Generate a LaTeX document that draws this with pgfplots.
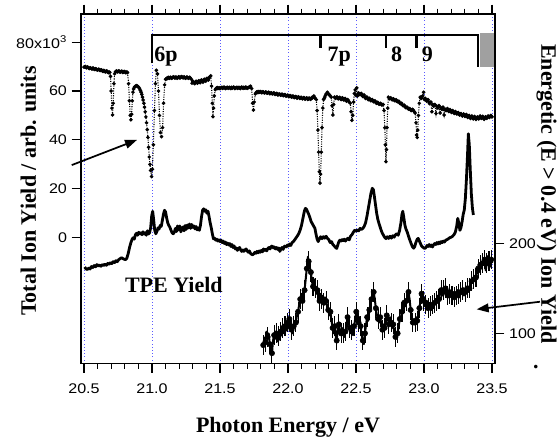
\documentclass[border=0pt]{standalone}
\usepackage{pgfplots}
\pgfplotsset{compat=1.18}
\usepackage{fontspec}
\setmainfont{Liberation Serif}
\newfontfamily\ticksans[FakeStretch=1.15]{Liberation Sans}
\usetikzlibrary{arrows.meta}
\definecolor{gridblue}{RGB}{90,90,255}
\definecolor{boxgray}{RGB}{160,160,160}
\newcommand\labfont{\bfseries\fontsize{16.5}{19}\selectfont}
\newcommand\tickfont{\ticksans\fontsize{10.5}{12}\selectfont}

\pgfplotstableread{
E Y
21.818 87
21.826 95
21.834 90
21.842 102
21.850 96
21.858 100
21.866 88
21.874 80
21.882 78
21.890 92
21.898 98
21.906 94
21.914 100
21.922 91
21.930 97
21.938 93
21.946 102
21.954 98
21.962 106
21.970 100
21.978 108
21.986 103
21.994 112
22.002 106
22.010 116
22.018 110
22.026 104
22.034 100
22.042 108
22.050 114
22.058 112
22.066 120
22.074 124
22.082 132
22.090 138
22.098 144
22.106 136
22.114 142
22.122 148
22.130 160
22.138 172
22.146 185
22.152 180
22.160 174
22.168 168
22.176 158
22.184 152
22.192 160
22.200 150
22.208 144
22.216 148
22.224 140
22.232 136
22.240 144
22.248 138
22.256 142
22.264 134
22.272 140
22.280 136
22.288 130
22.296 126
22.304 120
22.312 124
22.320 114
22.328 106
22.336 100
22.344 108
22.352 96
22.358 92
22.366 104
22.374 110
22.382 104
22.390 100
22.398 106
22.406 100
22.414 96
22.422 102
22.430 110
22.438 118
22.446 112
22.454 106
22.462 100
22.470 104
22.478 98
22.486 108
22.494 116
22.502 124
22.510 120
22.518 112
22.526 118
22.534 108
22.542 98
22.550 92
22.558 88
22.566 100
22.574 110
22.582 118
22.590 114
22.598 126
22.606 132
22.614 138
22.622 142
22.630 146
22.638 138
22.646 128
22.654 120
22.662 116
22.670 112
22.678 118
22.686 110
22.694 104
22.702 110
22.710 106
22.718 114
22.726 120
22.734 116
22.742 110
22.750 118
22.758 112
22.766 106
22.774 110
22.782 100
22.790 96
22.798 94
22.806 100
22.814 108
22.822 116
22.830 118
22.838 124
22.846 128
22.854 134
22.862 130
22.870 136
22.878 140
22.886 146
22.894 138
22.902 126
22.910 116
22.918 112
22.926 116
22.934 112
22.942 118
22.950 114
22.958 120
22.966 128
22.974 136
22.982 144
22.990 140
22.998 136
23.006 140
23.014 132
23.022 136
23.030 128
23.038 134
23.046 130
23.054 126
23.062 132
23.070 128
23.078 134
23.086 138
23.094 136
23.102 142
23.110 138
23.118 144
23.126 148
23.134 142
23.142 148
23.150 144
23.158 150
23.166 146
23.174 142
23.182 148
23.190 144
23.198 148
23.206 142
23.214 146
23.222 140
23.230 146
23.238 142
23.246 148
23.254 144
23.262 140
23.270 146
23.278 144
23.286 148
23.294 142
23.302 146
23.310 144
23.318 150
23.326 146
23.334 150
23.342 154
23.350 158
23.358 156
23.366 160
23.374 164
23.382 162
23.390 168
23.398 172
23.406 168
23.414 176
23.422 172
23.430 178
23.438 176
23.446 182
23.454 170
23.462 178
23.470 186
23.478 180
23.486 174
23.494 182
23.502 178
}\energetic

\begin{document}
\begin{tikzpicture}
\useasboundingbox (0,0) rectangle (420pt,330pt);
% ---------- left axis: total ion yield and TPE yield ----------
\begin{axis}[
  at={(60.75pt,57.5pt)}, anchor=south west,
  scale only axis, width=310.5pt, height=262pt,
  xmin=20.478, xmax=23.522, ymin=-51.4, ymax=91.5,
  clip=false,
  axis line style={line width=1pt},
  tick align=outside, xtick pos=both, ytick pos=left, xticklabel pos=lower,
  major tick length=7pt, minor tick length=4pt,
  tick style={black, line width=0.9pt},
  xtick={20.5,21,21.5,22,22.5,23,23.5},
  xticklabels={20.5,21.0,21.5,22.0,22.5,23.0,23.5},
  minor x tick num=4,
  ytick={0,20,40,60,80},
  yticklabels={0,20,40,60,80x10\textsuperscript{3}},
  tick label style={font=\tickfont},
  xticklabel style={yshift=-5pt},
  xmajorgrids, major grid style={gridblue, dotted, line width=0.6pt},
  xlabel={Photon Energy / eV},
  xlabel style={font=\labfont, at={(axis description cs:0.5,-0.1967)}, anchor=base},
  ylabel={Total Ion Yield / arb. units},
  ylabel style={font=\labfont, at={(axis description cs:-0.109,0.493)}, anchor=base},
]
% total ion yield (dotted trace with point markers)
\addplot[black, densely dotted, line width=0.8pt, mark=*, mark size=0.9pt, mark options={solid}] coordinates {
(20.500,69.8) (20.505,69.9) (20.510,70.0) (20.515,69.6) (20.520,69.5) (20.525,69.8) (20.530,69.7) (20.535,69.3) (20.540,69.2) (20.545,69.5) (20.550,69.4)
(20.555,69.1) (20.560,69.0) (20.565,69.4) (20.570,69.3) (20.575,68.9) (20.580,68.8) (20.585,69.1) (20.590,69.0) (20.595,68.7) (20.600,68.6) (20.605,68.9) (20.610,68.9)
(20.615,68.5) (20.620,68.4) (20.625,68.7) (20.630,68.6) (20.635,68.2) (20.640,68.0) (20.645,68.4) (20.650,68.3) (20.655,67.9) (20.660,67.8) (20.665,68.2) (20.670,68.1)
(20.675,67.7) (20.680,67.5) (20.685,67.8) (20.690,67.6) (20.695,66.0) (20.700,60.0) (20.705,53.0) (20.710,50.2)
(20.715,55.0) (20.720,63.0) (20.725,67.0) (20.730,67.8) (20.735,68.0) (20.740,68.2) (20.745,67.8) (20.750,67.9)
(20.755,68.2) (20.760,68.1) (20.765,67.7) (20.770,67.8) (20.775,68.1) (20.780,68.0) (20.785,67.6) (20.790,67.7) (20.795,68.0) (20.800,67.9) (20.805,67.5) (20.810,67.6)
(20.815,67.8) (20.820,67.5) (20.828,63.0) (20.834,56.0) (20.840,50.0) (20.845,48.2) (20.850,50.5)
(20.855,56.0) (20.860,59.5) (20.865,60.8) (20.870,61.5) (20.875,61.8) (20.880,62.0) (20.885,62.2) (20.890,62.1) (20.895,61.9) (20.900,61.6)
(20.905,61.3) (20.910,60.8) (20.915,60.2) (20.920,59.5) (20.925,58.6) (20.930,57.5) (20.935,56.3) (20.940,55.0) (20.945,53.4) (20.950,51.5) (20.955,49.4) (20.960,47.0)
(20.965,44.2) (20.970,41.0) (20.975,37.0) (20.980,33.0) (20.985,30.0) (20.990,27.5) (20.997,25.0) (21.003,28.0) (21.010,38.0)
(21.018,52.0) (21.025,63.0) (21.032,68.5) (21.040,67.0) (21.048,60.0) (21.055,50.0)
(21.062,43.0) (21.070,41.3) (21.078,45.0) (21.085,55.0) (21.093,62.5) (21.100,64.8)
(21.105,65.0) (21.110,65.3) (21.115,65.1) (21.120,65.6) (21.125,65.4) (21.130,65.2) (21.135,65.6) (21.140,65.5) (21.145,65.2) (21.150,65.4) (21.155,65.7) (21.160,65.8)
(21.165,65.4) (21.170,65.3) (21.175,65.7) (21.180,65.6) (21.185,65.2) (21.190,65.4) (21.195,65.8) (21.200,65.7) (21.205,65.3) (21.210,65.5) (21.215,65.9) (21.220,65.8)
(21.225,65.5) (21.230,65.4) (21.235,65.8) (21.240,65.6) (21.245,65.2) (21.250,65.3) (21.255,65.7) (21.260,65.6) (21.265,65.3) (21.270,65.2) (21.275,65.6) (21.280,65.5)
(21.290,64.8) (21.295,63.2) (21.300,63.9) (21.305,63.8) (21.310,63.2) (21.315,63.0) (21.320,63.7) (21.325,64.0) (21.330,63.5) (21.335,63.2)
(21.340,64.0) (21.345,64.2) (21.350,63.6) (21.355,63.4) (21.360,64.3) (21.365,64.5) (21.370,63.9) (21.375,63.6) (21.380,64.4) (21.385,64.8) (21.390,64.3) (21.395,64.0)
(21.400,64.9) (21.405,65.2) (21.410,64.8) (21.415,64.5) (21.420,65.4) (21.425,65.8) (21.432,66.2) (21.438,62.0) (21.443,55.0)
(21.448,49.5) (21.453,53.0) (21.458,58.0) (21.465,60.5) (21.470,61.0) (21.475,61.2) (21.480,61.4) (21.485,61.0)
(21.490,61.2) (21.495,61.3) (21.500,61.0) (21.505,61.2) (21.510,61.4) (21.515,61.5) (21.520,61.1) (21.525,61.3) (21.530,61.6) (21.535,61.4) (21.540,61.0) (21.545,61.2)
(21.550,61.4) (21.555,61.5) (21.560,61.1) (21.565,61.3) (21.570,61.5) (21.575,61.2) (21.580,61.0) (21.585,61.5) (21.590,61.2) (21.595,61.3) (21.600,61.6) (21.605,61.4)
(21.610,61.0) (21.615,61.2) (21.620,61.4) (21.625,61.5) (21.630,61.1) (21.635,61.3) (21.640,61.5) (21.645,61.2) (21.650,61.0) (21.655,61.4) (21.660,61.6) (21.665,61.3)
(21.670,61.1) (21.675,61.5) (21.680,61.3) (21.685,61.2) (21.690,61.6) (21.695,61.4) (21.700,61.1) (21.705,61.3) (21.710,61.4) (21.715,61.6) (21.720,61.8) (21.725,62.0)
(21.733,61.0) (21.740,55.0) (21.746,52.2) (21.752,55.5) (21.760,58.8) (21.765,59.3) (21.770,59.6)
(21.775,59.4) (21.780,59.8) (21.785,59.4) (21.790,59.5) (21.795,59.8) (21.800,59.7) (21.805,59.3) (21.810,59.4) (21.815,59.7) (21.820,59.6) (21.825,59.2) (21.830,59.3)
(21.835,59.6) (21.840,59.5) (21.845,59.1) (21.850,59.2) (21.855,59.5) (21.860,59.4) (21.865,58.9) (21.870,59.0) (21.875,59.3) (21.880,59.2) (21.885,58.8) (21.890,58.9)
(21.895,59.2) (21.900,59.1) (21.905,58.6) (21.910,58.7) (21.915,59.0) (21.920,58.9) (21.925,58.4) (21.930,58.5) (21.935,58.8) (21.940,58.7) (21.945,58.3) (21.950,58.4)
(21.955,58.7) (21.960,58.6) (21.965,58.1) (21.970,58.2) (21.975,58.5) (21.980,58.4) (21.985,57.9) (21.990,58.0) (21.995,58.3) (22.000,58.2) (22.005,57.7) (22.010,57.8)
(22.015,58.1) (22.020,58.0) (22.025,57.5) (22.030,57.6) (22.035,57.9) (22.040,57.8) (22.045,57.3) (22.050,57.4) (22.055,57.7) (22.060,57.6) (22.065,57.1) (22.070,57.2)
(22.075,57.6) (22.080,57.5) (22.085,57.0) (22.090,57.1) (22.095,57.4) (22.100,57.3) (22.105,56.8) (22.110,56.9) (22.115,57.3) (22.120,57.2) (22.125,56.7) (22.130,56.8)
(22.135,57.2) (22.140,57.1) (22.145,56.6) (22.150,56.7) (22.155,57.1) (22.160,57.0) (22.165,56.6) (22.170,56.8) (22.175,57.3) (22.180,57.2) (22.185,57.6) (22.190,58.0)
(22.195,57.4) (22.200,57.0) (22.208,56.5) (22.214,52.0) (22.220,44.0) (22.225,35.0) (22.230,27.0)
(22.235,22.3) (22.240,26.0) (22.245,35.0) (22.250,45.0) (22.256,53.0) (22.262,56.5)
(22.266,57.0) (22.270,57.5) (22.275,58.2) (22.280,58.8) (22.285,59.0) (22.290,59.5) (22.295,59.0) (22.300,58.6) (22.305,58.4) (22.310,58.0) (22.318,57.5)
(22.324,54.0) (22.330,50.2) (22.336,54.5) (22.342,57.5) (22.346,57.2) (22.350,57.0) (22.355,57.4) (22.360,57.6)
(22.365,57.0) (22.370,56.8) (22.375,57.2) (22.380,57.4) (22.385,56.8) (22.390,56.5) (22.395,57.0) (22.400,57.2) (22.405,56.6) (22.410,56.3) (22.415,56.7) (22.420,56.9)
(22.425,56.2) (22.430,55.8) (22.435,56.3) (22.440,56.5) (22.445,55.9) (22.450,55.4) (22.458,55.0) (22.464,51.5) (22.470,48.0)
(22.476,50.0) (22.482,55.5) (22.488,59.0) (22.494,60.5) (22.500,58.2) (22.506,61.3)
(22.512,58.0) (22.516,58.8) (22.520,59.2) (22.525,58.8) (22.530,58.5) (22.535,58.8) (22.540,59.0) (22.545,58.2) (22.550,57.8) (22.555,58.1) (22.560,58.4)
(22.565,57.5) (22.570,57.0) (22.575,57.3) (22.580,57.6) (22.585,57.0) (22.590,56.5) (22.595,56.8) (22.600,57.0) (22.605,56.4) (22.610,56.0) (22.615,56.3) (22.620,56.5)
(22.625,56.0) (22.630,55.6) (22.635,55.8) (22.640,56.0) (22.645,55.4) (22.650,55.0) (22.655,55.2) (22.660,55.4) (22.665,54.9) (22.670,54.6) (22.675,54.8) (22.680,55.0)
(22.685,54.6) (22.690,54.3) (22.695,54.4) (22.700,54.5) (22.706,52.0) (22.712,45.0) (22.716,38.0) (22.720,31.1)
(22.724,36.0) (22.728,45.0) (22.733,53.0) (22.738,57.5) (22.745,56.8) (22.750,57.0) (22.755,57.2)
(22.760,56.8) (22.765,56.4) (22.770,56.6) (22.775,56.8) (22.780,56.3) (22.785,56.0) (22.790,56.2) (22.795,56.4) (22.800,55.8) (22.805,55.6) (22.810,55.7) (22.815,55.8)
(22.820,55.2) (22.825,54.8) (22.830,54.9) (22.835,55.0) (22.840,54.4) (22.845,54.0) (22.850,54.1) (22.855,54.2) (22.860,53.6) (22.865,53.2) (22.870,53.3) (22.875,53.4)
(22.880,53.0) (22.885,52.6) (22.890,52.7) (22.895,52.8) (22.900,52.4) (22.905,52.0) (22.910,52.2) (22.915,52.5) (22.920,52.2) (22.925,51.8) (22.930,51.4) (22.935,51.0)
(22.941,47.0) (22.946,42.0) (22.950,41.0) (22.954,44.0) (22.959,50.0) (22.965,55.0)
(22.972,57.5) (22.976,57.2) (22.980,57.0) (22.985,57.6) (22.990,58.0) (22.997,59.5) (23.003,56.5) (23.006,56.8) (23.010,57.0)
(23.015,56.4) (23.020,55.8) (23.025,56.2) (23.030,56.5) (23.035,55.6) (23.040,54.8) (23.045,55.2) (23.050,55.5) (23.058,51.5) (23.064,54.5)
(23.068,54.2) (23.072,53.8) (23.076,54.2) (23.080,54.5) (23.088,50.8) (23.094,53.8) (23.098,53.4) (23.102,53.0) (23.106,53.6) (23.110,54.0)
(23.118,51.0) (23.124,53.2) (23.128,52.8) (23.132,52.5) (23.136,53.0) (23.140,53.4) (23.148,50.2) (23.154,52.6)
(23.158,52.2) (23.162,52.0) (23.167,52.5) (23.172,52.8) (23.177,52.0) (23.182,51.6) (23.187,52.0) (23.192,52.4) (23.197,51.6) (23.202,51.2) (23.207,51.7) (23.212,52.0)
(23.217,51.2) (23.222,50.8) (23.227,51.3) (23.232,51.6) (23.237,50.9) (23.242,50.6) (23.247,51.0) (23.252,51.2) (23.257,50.5) (23.262,50.2) (23.267,50.6) (23.272,50.8)
(23.277,50.1) (23.282,49.8) (23.287,50.3) (23.292,50.6) (23.297,49.9) (23.302,49.6) (23.307,50.1) (23.312,50.4) (23.317,49.6) (23.322,49.2) (23.327,49.7) (23.332,50.0)
(23.337,49.2) (23.342,48.8) (23.347,49.4) (23.352,49.8) (23.357,49.0) (23.362,48.6) (23.367,49.2) (23.372,49.6) (23.377,48.8) (23.382,48.4) (23.387,49.0) (23.392,49.4)
(23.397,48.9) (23.402,48.6) (23.407,49.3) (23.412,49.8) (23.417,49.1) (23.422,48.8) (23.427,49.3) (23.432,49.6) (23.437,48.8) (23.442,48.4) (23.447,49.0) (23.452,49.4)
(23.457,49.0) (23.462,48.8) (23.467,49.4) (23.472,49.8) (23.477,49.4) (23.482,49.2) (23.487,49.7) (23.492,50.0) (23.496,49.6) (23.500,49.4)
};
% threshold photoelectron (TPE) yield
\addplot[black, line width=2.1pt, line join=round] coordinates {
(20.505,-12.0) (20.515,-12.8) (20.525,-13.0) (20.535,-12.4) (20.545,-12.8) (20.555,-11.8)
(20.565,-12.2) (20.575,-11.4) (20.585,-11.9) (20.595,-11.0) (20.605,-11.6) (20.615,-11.2)
(20.625,-11.7) (20.635,-11.0) (20.645,-11.4) (20.655,-10.8) (20.665,-11.3) (20.675,-10.5)
(20.685,-10.9) (20.695,-10.2) (20.705,-10.6) (20.715,-9.8) (20.725,-10.2) (20.735,-9.4)
(20.745,-9.8) (20.755,-9.0) (20.765,-8.6) (20.775,-8.2) (20.785,-8.5) (20.795,-8.8)
(20.805,-9.0) (20.815,-8.4) (20.825,-6.5) (20.835,-4.0) (20.845,-2.0) (20.855,-0.5)
(20.862,0.0) (20.870,-0.6) (20.878,1.2) (20.886,1.8) (20.894,1.0) (20.902,2.2)
(20.910,1.6) (20.918,2.0) (20.926,1.2) (20.934,2.4) (20.942,1.5) (20.950,2.0)
(20.958,1.0) (20.966,2.8) (20.974,1.5) (20.982,2.0) (20.990,4.0) (20.998,9.0)
(21.005,10.8) (21.012,7.5) (21.020,3.0) (21.028,1.6) (21.036,2.5) (21.044,4.0)
(21.052,3.5) (21.060,5.0) (21.068,4.6) (21.076,7.0) (21.084,9.5) (21.092,11.2)
(21.100,10.5) (21.108,8.0) (21.116,6.0) (21.124,5.0) (21.132,4.2) (21.140,3.0)
(21.148,2.0) (21.156,1.6) (21.164,2.2) (21.172,3.8) (21.180,2.5) (21.188,4.8)
(21.196,3.2) (21.204,4.8) (21.212,2.4) (21.220,3.6) (21.228,4.4) (21.236,2.8)
(21.244,5.0) (21.252,3.4) (21.260,5.2) (21.268,4.0) (21.276,5.6) (21.284,3.8)
(21.292,5.4) (21.300,4.2) (21.308,4.8) (21.316,3.6) (21.324,4.6) (21.332,3.2)
(21.340,4.0) (21.348,3.0) (21.356,5.0) (21.364,8.5) (21.372,11.2) (21.380,11.8)
(21.388,10.8) (21.396,11.4) (21.404,10.0) (21.412,10.8) (21.420,8.5) (21.428,6.0)
(21.436,4.0) (21.444,1.5) (21.452,-0.5) (21.460,-0.2) (21.468,-1.0) (21.476,-0.6)
(21.484,-1.4) (21.492,-0.9) (21.500,-1.6) (21.508,-1.0) (21.516,-2.0) (21.524,-1.4)
(21.532,-2.4) (21.540,-1.8) (21.548,-2.8) (21.556,-2.2) (21.564,-3.0) (21.572,-2.4)
(21.580,-3.6) (21.588,-2.8) (21.596,-4.0) (21.604,-3.4) (21.612,-4.6) (21.620,-4.2)
(21.628,-5.2) (21.636,-4.4) (21.644,-4.0) (21.652,-5.0) (21.660,-5.6) (21.668,-5.0)
(21.676,-5.6) (21.684,-5.0) (21.692,-4.6) (21.700,-5.4) (21.708,-6.0) (21.716,-5.4)
(21.724,-6.4) (21.732,-6.8) (21.740,-7.0) (21.748,-6.6) (21.756,-6.0) (21.764,-6.4)
(21.772,-5.6) (21.780,-6.2) (21.788,-5.4) (21.796,-6.0) (21.804,-5.2) (21.812,-5.8)
(21.820,-4.6) (21.828,-5.2) (21.836,-4.8) (21.844,-5.4) (21.852,-4.4) (21.860,-4.0)
(21.868,-4.6) (21.876,-3.6) (21.884,-3.4) (21.892,-4.2) (21.900,-3.8) (21.908,-4.6)
(21.916,-4.0) (21.924,-4.8) (21.932,-4.2) (21.940,-5.6) (21.948,-4.6) (21.956,-4.0)
(21.964,-4.8) (21.972,-3.6) (21.980,-3.4) (21.988,-3.8) (21.996,-3.0) (22.004,-3.4)
(22.012,-2.6) (22.020,-3.2) (22.030,-2.0) (22.040,-1.6) (22.050,-0.8) (22.060,0.0)
(22.070,0.8) (22.080,1.8) (22.090,3.2) (22.100,5.2) (22.110,8.0) (22.120,10.8)
(22.128,12.0) (22.136,11.6) (22.144,10.6) (22.152,9.6) (22.160,8.4) (22.170,6.6)
(22.180,5.6) (22.190,4.6) (22.198,3.8) (22.206,1.4) (22.214,-0.6) (22.222,-1.6)
(22.230,-0.6) (22.240,0.4) (22.250,-0.4) (22.260,0.4) (22.270,-0.2) (22.280,0.6)
(22.290,-0.3) (22.300,-0.8) (22.310,-2.0) (22.320,-1.6) (22.330,-2.8) (22.340,-3.4)
(22.350,-4.0) (22.358,-4.4) (22.366,-3.0) (22.374,-1.6) (22.382,-1.0) (22.390,-1.4)
(22.398,-0.8) (22.406,-1.2) (22.414,-0.6) (22.422,-1.4) (22.430,-0.8) (22.440,-0.2)
(22.450,-0.9) (22.460,0.6) (22.470,1.2) (22.480,2.2) (22.490,3.0) (22.500,2.6)
(22.510,3.2) (22.520,2.8) (22.530,3.8) (22.540,3.4) (22.550,3.8) (22.560,4.6)
(22.570,6.0) (22.580,8.6) (22.590,11.8) (22.600,15.0) (22.610,18.2) (22.620,20.2)
(22.628,19.6) (22.636,16.5) (22.644,13.2) (22.652,10.0) (22.660,7.6) (22.668,6.0)
(22.676,4.6) (22.684,3.2) (22.692,2.0) (22.700,1.2) (22.710,0.2) (22.720,-0.4)
(22.730,0.4) (22.740,-0.3) (22.750,0.6) (22.760,-0.2) (22.770,0.8) (22.780,0.2)
(22.790,1.2) (22.800,1.6) (22.810,1.0) (22.820,2.8) (22.830,6.0) (22.838,9.6)
(22.844,10.8) (22.852,8.0) (22.860,5.0) (22.868,3.4) (22.876,2.4) (22.884,1.0)
(22.892,-0.4) (22.900,-1.6) (22.908,-2.8) (22.916,-3.8) (22.924,-4.3) (22.932,-3.6)
(22.940,-2.0) (22.950,-0.6) (22.958,-0.3) (22.966,-1.4) (22.974,-2.4) (22.982,-3.4)
(22.990,-3.8) (22.998,-4.2) (23.006,-4.4) (23.014,-4.0) (23.022,-3.2) (23.030,-3.6)
(23.038,-2.8) (23.046,-3.6) (23.054,-3.0) (23.062,-3.8) (23.070,-3.0) (23.078,-2.4)
(23.086,-2.8) (23.094,-2.0) (23.102,-2.6) (23.110,-1.8) (23.118,-2.4) (23.126,-1.6)
(23.134,-2.0) (23.142,-1.4) (23.150,-1.8) (23.160,-1.0) (23.170,-0.8) (23.180,-0.4)
(23.190,0.0) (23.200,0.2) (23.210,0.6) (23.220,1.2) (23.230,2.2) (23.240,4.6)
(23.248,7.9) (23.256,6.0) (23.264,3.0) (23.272,4.2) (23.280,6.5) (23.288,9.5)
(23.296,11.3) (23.304,16.0) (23.312,24.0) (23.320,34.0) (23.326,42.5) (23.333,38.0)
(23.340,28.0) (23.348,18.0) (23.356,12.0) (23.363,9.3)
};
% Rydberg series bracket
\draw[line width=1.8pt] (axis cs:21.0,71.3) -- (axis cs:21.0,82.9) -- (axis cs:23.395,82.9) -- (axis cs:23.395,69.9);
\draw[line width=1.8pt] (axis cs:22.24,82.9) -- (axis cs:22.24,77.5);
\draw[line width=1.8pt] (axis cs:22.72,82.9) -- (axis cs:22.72,77.5);
\draw[line width=1.8pt] (axis cs:22.946,82.9) -- (axis cs:22.946,77.5);
\fill[boxgray] (axis cs:23.412,83.6) rectangle (axis cs:23.518,69.9);
\node[font=\labfont, anchor=base west, inner sep=0pt] at (axis cs:21.015,72.0) {6p};
\node[font=\labfont, anchor=base west, inner sep=0pt] at (axis cs:22.29,72.0) {7p};
\node[font=\labfont, anchor=base west, inner sep=0pt] at (axis cs:22.757,72.0) {8};
\node[font=\labfont, anchor=base west, inner sep=0pt] at (axis cs:22.983,72.0) {9};
\node[font=\labfont, anchor=base west, inner sep=0pt] at (axis cs:20.80,-22.6) {TPE Yield};
% arrows pointing at the two traces
\draw[line width=1.3pt, -{Triangle[length=9pt,width=6.5pt]}] (axis cs:20.41,29.7) -- (axis cs:20.89,40.0);
\draw[line width=1.3pt, -{Triangle[length=9pt,width=6.5pt]}] (axis cs:23.853,-26.2) -- (axis cs:23.387,-29.3);
% right-hand label
\node[font=\labfont, rotate=-90, anchor=base] at (axis description cs:1.112,0.485) {Energetic (E > 0.4 eV) Ion Yield};
\node[font=\labfont, anchor=base] at (axis description cs:1.099,-0.0135) {.};
\end{axis}
% ---------- right axis: energetic ion yield ----------
\begin{axis}[
  at={(60.75pt,57.5pt)}, anchor=south west,
  scale only axis, width=310.5pt, height=262pt,
  xmin=20.478, xmax=23.522, ymin=66.7, ymax=454.8,
  axis x line=none, axis y line*=right,
  axis line style={line width=1pt},
  tick align=outside, major tick length=7pt,
  tick style={black, line width=0.9pt},
  ytick={100,200}, yticklabels={100,200},
  tick label style={font=\tickfont},
]
% error bars on every second point
\addplot[black, only marks, mark=none, each nth point=2,
  error bars/.cd, y dir=both, y fixed=11, error mark=none,
  error bar style={line width=0.8pt}] table[x=E, y=Y] {\energetic};
\addplot[black, line width=1.5pt, line join=round] table[x=E, y=Y] {\energetic};
\end{axis}
\end{tikzpicture}
\end{document}
